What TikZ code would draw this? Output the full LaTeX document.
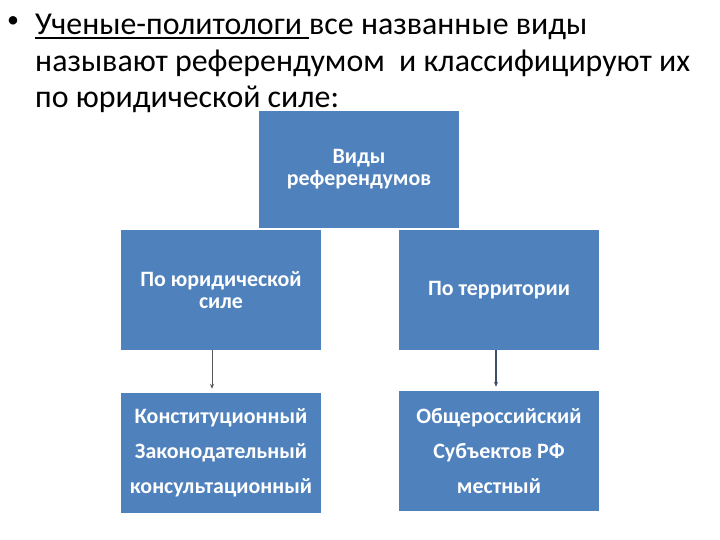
\documentclass[tikz,border=0pt]{standalone}
\usepackage{fontspec}
\setmainfont{Carlito}
\usetikzlibrary{arrows.meta}
\definecolor{boxblue}{HTML}{4F81BD}
\definecolor{arrowgray}{HTML}{595959}
\definecolor{arrowslate}{HTML}{3B4E6E}
\newcommand{\ulword}[1]{\setbox0\hbox{#1}\rlap{\rule[-4pt]{\wd0}{1.8pt}}\box0}
\begin{document}
\begin{tikzpicture}
[x=1bp,y=-1bp,
  titledecorate/.style={anchor=base west,inner sep=0pt,font=\fontsize{32}{38}\selectfont},%
  boxdecorate/.style={shape=rectangle,fill=boxblue,text=white,minimum width=200bp,inner sep=2pt,align=center,font=\fontsize{22}{22}\selectfont\bfseries},%
  lowdecorate/.style={boxdecorate,font=\fontsize{22}{35}\selectfont\bfseries},%
  arrowdecorate/.style={-{Stealth[length=5pt,width=4pt]},shorten >=4bp}]
\useasboundingbox (0,0) rectangle (720,540);
%% title lines
\node (bullet) at (13,22) [inner sep=0pt,font=\fontsize{24}{24}\selectfont] {•};
\foreach \nodename/\y/\txt in {line1/35/{\ulword{Ученые-политологи }все названные виды},
  line2/72/{называют референдумом\ \ и классифицируют их}, line3/108/{по юридической силе:}} {
  \node (\nodename) at (35,\y) [titledecorate] {\txt};
}
%% boxes
\foreach \nodename/\x/\y/\h/\txt in {top/359/169.5/117/{Виды\\референдумов},
  lmid/221/290/120/{По юридической\\силе}, rmid/499/290/120/{По территории}} {
  \node (\nodename) at (\x,\y) [boxdecorate,minimum height=\h bp] {\txt};
}
\foreach \nodename/\x/\y/\txt in {lbot/221/453/{Конституционный\\Законодательный\\консультационный},
  rbot/499/451/{Общероссийский\\Субъектов РФ\\местный}} {
  \node (\nodename) at (\x,\y) [lowdecorate,minimum height=120bp] {\txt};
}
%% arrows
\draw[arrowdecorate,draw=arrowgray,line width=0.8pt] ([xshift=-9bp]lmid.south) -- ([xshift=-9bp]lmid.south |- lbot.north);
\draw[arrowdecorate,draw=arrowslate,line width=1.6pt] ([xshift=-3bp]rmid.south) -- ([xshift=-3bp]rmid.south |- rbot.north);
\end{tikzpicture}
\end{document}
